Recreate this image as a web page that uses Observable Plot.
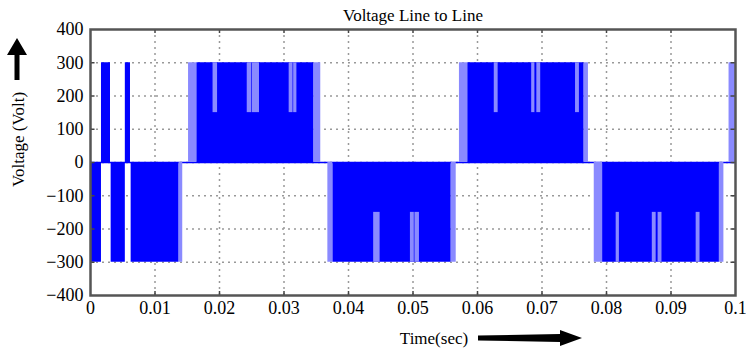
<!DOCTYPE html>
<html>
<head>
<meta charset="utf-8">
<script src="https://cdn.jsdelivr.net/npm/d3@7"></script>
<script src="https://cdn.jsdelivr.net/npm/@observablehq/plot@0.6"></script>
<style>
  html, body { margin: 0; padding: 0; background: #fff; }
  #wrap { position: relative; width: 746px; height: 351px; overflow: hidden; }
  #wrap svg text { font-family: 'Liberation Serif', 'DejaVu Serif', serif; }
  .deco { position: absolute; left: 0; top: 0; pointer-events: none; }
</style>
</head>
<body>
<div id="wrap"></div>
<script>
// ---- data (time in seconds, voltage in volts) ----
const title = "Voltage Line to Line";
const xLabel = "Time(sec)";
const yLabel = "Voltage (Volt)";

const xTicks = [0, 0.01, 0.02, 0.03, 0.04, 0.05, 0.06, 0.07, 0.08, 0.09, 0.1];
const xTickLabels = ["0", "0.01", "0.02", "0.03", "0.04", "0.05", "0.06", "0.07", "0.08", "0.09", "0.1"];
const yTicks = [-400, -300, -200, -100, 0, 100, 200, 300, 400];
const yTickLabels = ["\u2212400", "\u2212300", "\u2212200", "\u2212100", "0", "100", "200", "300", "400"];

// dense PWM blocks (solid)
const blockStart = [0.0000, 0.0017, 0.0032, 0.0054, 0.0063, 0.0165, 0.0376, 0.0585, 0.0794];
const blockEnd   = [0.0017, 0.0031, 0.0054, 0.0062, 0.0137, 0.0346, 0.0559, 0.0765, 0.0975];
const blockLevel = [-300, 300, -300, 300, -300, 300, -300, 300, -300];

// sparse pulse fringes at block edges (light)
const fringeStart = [0.0137, 0.0152, 0.0346, 0.0368, 0.0559, 0.0572, 0.0765, 0.0781, 0.0975, 0.0990];
const fringeEnd   = [0.0143, 0.0165, 0.0357, 0.0376, 0.0567, 0.0585, 0.0772, 0.0794, 0.0982, 0.1000];
const fringeLevel = [-300, 300, 300, -300, -300, 300, 300, -300, -300, 300];

// notches where the line voltage only reaches half level (light, from ±150 to ±300)
const notchStart = [0.0190, 0.0243, 0.0251, 0.0308, 0.0315, 0.0439, 0.0496, 0.0503, 0.0626, 0.0684, 0.0692, 0.0752, 0.0815, 0.0871, 0.0880, 0.0939];
const notchEnd   = [0.0197, 0.0250, 0.0262, 0.0314, 0.0320, 0.0449, 0.0502, 0.0510, 0.0632, 0.0689, 0.0698, 0.0758, 0.0820, 0.0877, 0.0886, 0.0945];
const notchLevel = [300, 300, 300, 300, 300, -300, -300, -300, 300, 300, 300, 300, -300, -300, -300, -300];

// ---- build tables ----
const blocks = blockStart.map((s, i) => ({x1: s, x2: blockEnd[i], y1: 0, y2: blockLevel[i]}));
const fringes = fringeStart.map((s, i) => ({x1: s, x2: fringeEnd[i], y1: 0, y2: fringeLevel[i]}));
const notches = notchStart.map((s, i) => ({x1: s, x2: notchEnd[i], y1: notchLevel[i] / 2, y2: notchLevel[i]}));
const xTickTable = xTicks.map((t, i) => ({t, label: xTickLabels[i]}));
const yTickTable = yTicks.map((t, i) => ({t, label: yTickLabels[i]}));

const blue = "#0000ff";
const lightBlue = "#8a8aff";
const gridColor = "#999";
const tickColor = "#444";

const innerX = xTicks.slice(1, -1);
const innerY = yTicks.slice(1, -1);
const xMin = xTicks[0], xMax = xTicks[xTicks.length - 1];
const yMin = yTicks[0], yMax = yTicks[yTicks.length - 1];
const font = "'Liberation Serif', 'DejaVu Serif', serif";

const chart = Plot.plot({
  width: 746,
  height: 351,
  marginLeft: 90,
  marginRight: 11,
  marginTop: 29,
  marginBottom: 56,
  style: {fontFamily: font, fontSize: "17px", color: "#000", background: "#fff"},
  x: {domain: [xMin, xMax], axis: null},
  y: {domain: [yMin, yMax], axis: null},
  marks: [
    Plot.gridX(innerX, {stroke: gridColor, strokeOpacity: 1, strokeDasharray: "2,4", strokeWidth: 1.5}),
    Plot.gridY(innerY, {stroke: gridColor, strokeOpacity: 1, strokeDasharray: "2,4", strokeWidth: 1.5}),
    Plot.ruleY([0], {x1: xMin, x2: xMax, stroke: blue, strokeWidth: 1.5}),
    Plot.rect(fringes, {x1: "x1", x2: "x2", y1: "y1", y2: "y2", fill: lightBlue}),
    Plot.rect(blocks, {x1: "x1", x2: "x2", y1: "y1", y2: "y2", fill: blue}),
    Plot.rect(notches, {x1: "x1", x2: "x2", y1: "y1", y2: "y2", fill: lightBlue}),
    // short inward tick marks on the frame
    Plot.ruleX(innerX, {y1: yMin, y2: yMin + 12, stroke: tickColor, strokeWidth: 1.5}),
    Plot.ruleX(innerX, {y1: yMax, y2: yMax - 12, stroke: tickColor, strokeWidth: 1.5}),
    Plot.ruleY(innerY, {x1: xMin, x2: xMin + 0.0007, stroke: tickColor, strokeWidth: 1.5}),
    Plot.ruleY(innerY, {x1: xMax, x2: xMax - 0.0007, stroke: tickColor, strokeWidth: 1.5}),
    // tick labels
    Plot.text(xTickTable, {x: "t", text: "label", frameAnchor: "bottom", textAnchor: "middle", lineAnchor: "middle", dy: 13, fontSize: 18, fill: "#000"}),
    Plot.text(yTickTable, {y: "t", text: "label", frameAnchor: "left", textAnchor: "end", lineAnchor: "middle", dx: -7, fontSize: 18, fill: "#000"}),
    Plot.frame({stroke: "#555", strokeWidth: 2.5}),
    Plot.text([title], {text: d => d, frameAnchor: "top", textAnchor: "middle", dy: -14, lineAnchor: "middle", fontSize: 17}),
    Plot.text([xLabel], {text: d => d, frameAnchor: "bottom", textAnchor: "middle", dx: 21, dy: 43, lineAnchor: "middle", fontSize: 17}),
    Plot.text([yLabel], {text: d => d, frameAnchor: "left", textAnchor: "middle", dx: -72, dy: -23, rotate: -90, lineAnchor: "middle", fontSize: 17})
  ]
});

const wrap = document.getElementById("wrap");
wrap.appendChild(chart);

// decorative arrows next to the axis titles
const ns = "http://www.w3.org/2000/svg";
const deco = document.createElementNS(ns, "svg");
deco.setAttribute("class", "deco");
deco.setAttribute("width", "746");
deco.setAttribute("height", "351");
deco.innerHTML =
  '<polygon fill="#000" points="14.5,80 19.5,80 19.5,55 27,55 17,38 7,55 14.5,55"/>' +
  '<polygon fill="#000" points="478,335.5 560,334 560,330 582,338 560,346 560,342 478,340.5"/>';
wrap.appendChild(deco);
</script>
</body>
</html>
